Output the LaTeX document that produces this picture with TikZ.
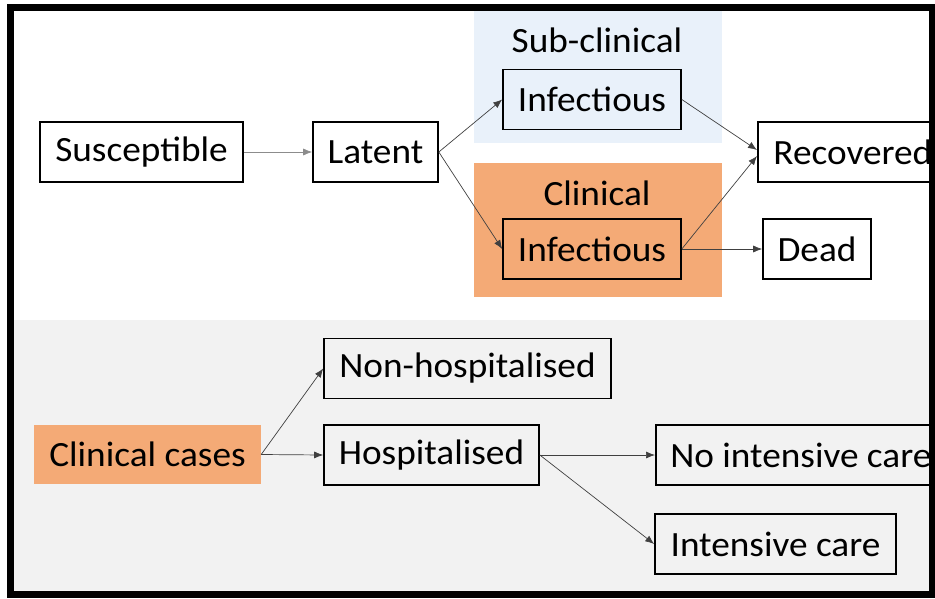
\documentclass[tikz,border=0pt]{standalone}
\usepackage{fontspec}
\setmainfont{Carlito}[FakeStretch=1.05]
\usetikzlibrary{arrows.meta}
\definecolor{subblue}{HTML}{E9F1FA}
\definecolor{clinorange}{HTML}{F4AA76}
\definecolor{lowgray}{HTML}{F2F2F2}
\tikzset{
  lab/.style={font=\fontsize{35.5}{42}\selectfont},
  box/.style={lab, draw, line width=1.6pt, minimum height=60pt, inner xsep=14pt},
  flow/.style={-{Latex[length=9pt,width=7pt]}, line width=0.7pt, draw=black!75},
}
\begin{document}
\begin{tikzpicture}[x=1pt,y=-1pt]
    \useasboundingbox (0,0) rectangle (935,598);
    \begin{scope}
        \clip (10,7) rectangle (932,594);
        % backgrounds
        \fill[lowgray] (0,320) rectangle (935,598);
        \fill[subblue] (474,10) rectangle (722,143);
        \fill[clinorange] (474,163) rectangle (722,297);
        \node[lab] (subclin) at (597,40) {Sub-clinical};
        \node[lab] (clin) at (597,193) {Clinical};
        % top model
        \node[box, minimum width=203pt] (susc) at (141.5,152) {Susceptible};
        \node[box, minimum width=125pt] (latent) at (375.5,152) {Latent};
        \node[box, minimum width=178pt] (inftop) at (592,99.5) {Infectious};
        \node[box, minimum width=178pt] (infbot) at (592,249) {Infectious};
        \node[box, anchor=west, inner xsep=13pt, minimum width=190pt] (recov) at (757,152) {Recovered};
        \node[box, minimum width=108pt] (dead) at (817,249) {Dead};
        \draw[flow, draw=black!45] (susc) -- (latent);
        \draw[flow] (latent.east) -- (inftop.west);
        \draw[flow] (latent.east) -- (infbot.west);
        \draw[flow] (inftop.east) -- ([yshift=2pt]recov.west);
        \draw[flow] (infbot.east) -- ([yshift=-4pt]recov.west);
        \draw[flow] (infbot.east) -- (dead.west);
        % clinical pathway
        \node[lab, fill=clinorange, minimum width=227pt, minimum height=59pt] (cases) at (147.5,454.5) {Clinical cases};
        \node[box, minimum width=287pt] (nonhosp) at (467.5,368.5) {Non-hospitalised};
        \node[box, minimum width=215pt] (hosp) at (431.5,455) {Hospitalised};
        \node[box, anchor=west, inner xsep=13pt, minimum width=290pt] (noic) at (655,455) {No intensive care};
        \node[box, minimum width=241pt] (ic) at (775.5,544) {Intensive care};
        \draw[flow] (cases.east) -- (nonhosp.west);
        \draw[flow] (cases.east) -- (hosp.west);
        \draw[flow] (hosp.east) -- (noic.west);
        \draw[flow] (hosp.east) -- (ic.west);
    \end{scope}
    \draw[line width=7pt] (10,7) rectangle (932,594);
\end{tikzpicture}
\end{document}
